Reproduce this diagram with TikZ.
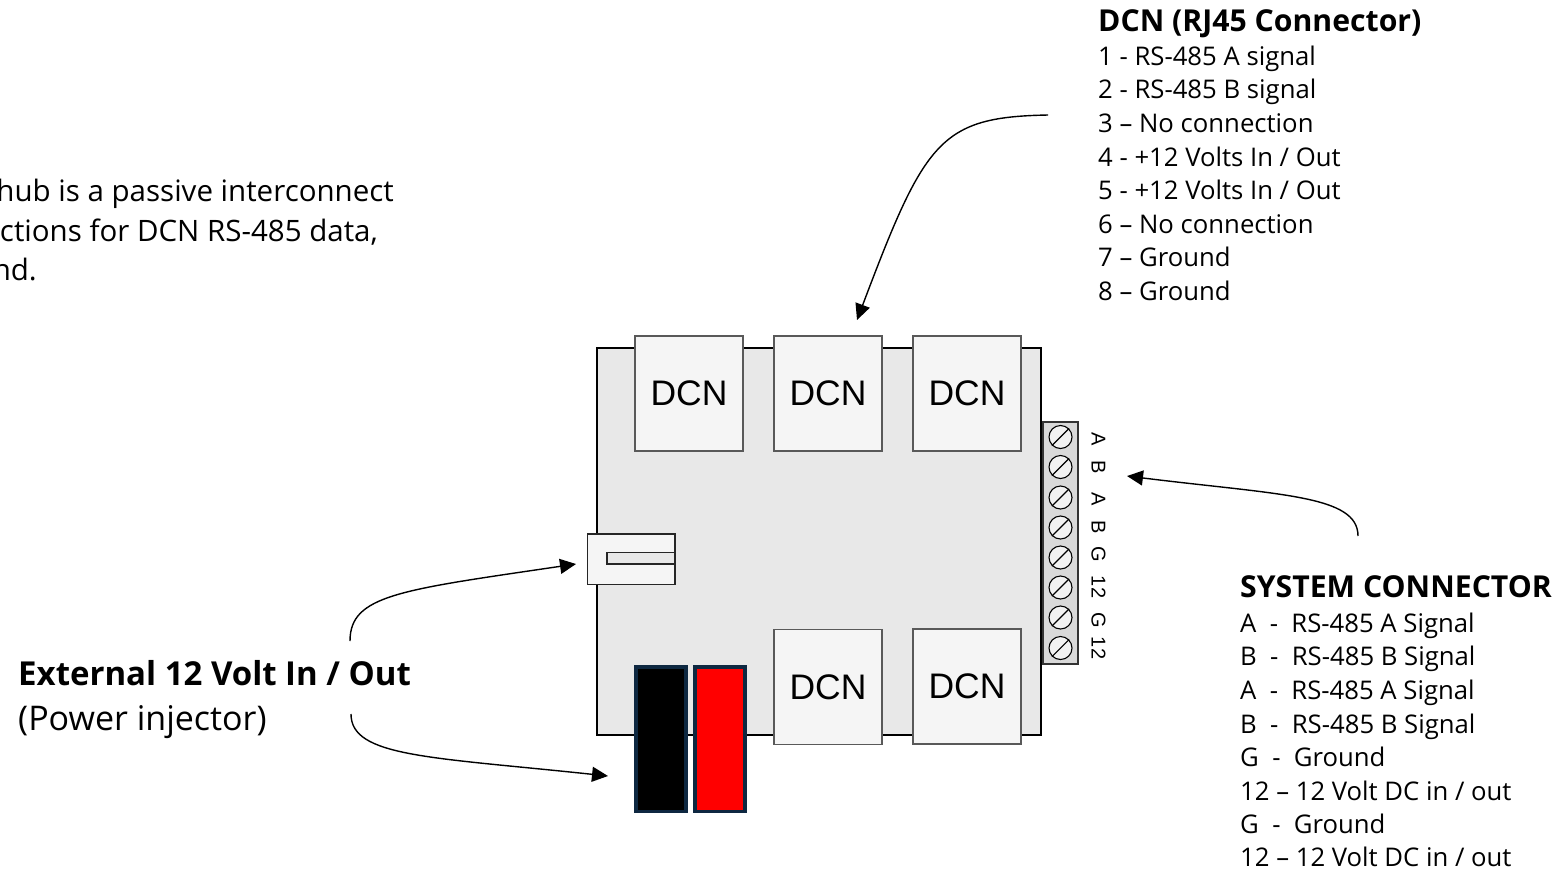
\documentclass[tikz,border=0pt]{standalone}
\usepackage{fontspec}
\setmainfont{Open Sans}
\newfontfamily\arialf{Liberation Sans}
\usetikzlibrary{arrows.meta}
\tikzset{
 x=1pt,y=-1pt,
 board/.style={draw=black,line width=1.6pt,fill=black!9},
 portbox/.style={draw=black!65,line width=1.2pt,fill=black!4,minimum width=108pt,minimum height=115pt,inner sep=0pt,font=\arialf\fontsize{35.5}{38}\selectfont},
 jack/.style={draw=black!85,line width=1.2pt,fill=black!4},
 post/.style={draw=myNavy,line width=3.8pt},
 screw/.style={circle,draw=black,line width=1.1pt,fill=black!5,minimum size=23pt,inner sep=0pt},
 pinlab/.style={rotate=-90,inner sep=0pt,font=\arialf\fontsize{20}{20}\selectfont},
 txt/.style={anchor=base west,inner sep=0pt,font=\fontsize{25.7}{28}\selectfont},
 head/.style={anchor=base west,inner sep=0pt,font=\bfseries\fontsize{30.2}{32}\selectfont},
 para/.style={anchor=base east,inner sep=0pt,font=\fontsize{29.5}{32}\selectfont},
 arr/.style={line width=1.4pt,-{Triangle[length=16pt,width=15pt]}},
}
\definecolor{myNavy}{HTML}{0E2841}
\begin{document}
\begin{tikzpicture}
\useasboundingbox (0,0) rectangle (1560,871);
\clip (0,0) rectangle (1560,871);
% board
\draw[board] (597,348) rectangle (1041,735);
\node[portbox] (d1) at (689,393.5) {DCN};
\node[portbox] (d2) at (828,393.5) {DCN};
\node[portbox] (d3) at (967,393.5) {DCN};
\node[portbox] (d4) at (828,687) {DCN};
\node[portbox] (d5) at (967,686.5) {DCN};
% power jack
\draw[jack] (587.5,534) rectangle (675,584.5);
\draw[jack,fill=black!9] (607,552.5) rectangle (674.5,564);
% posts
\draw[post,fill=black] (635.8,667.3) rectangle (686,811.5);
\draw[post,fill=red] (694.8,667.3) rectangle (745,811.5);
% terminal
\draw[draw=black!80,line width=1.1pt,fill=black!15] (1043,422) rectangle (1078,664);
\foreach \i/\y in {1/437,2/467,3/497.5,4/527.5,5/557.5,6/587.5,7/617.5,8/648}{
  \node[screw] (s\i) at (1060.5,\y) {};
  \draw[line width=1.1pt] (s\i.south west) -- (s\i.north east);
}
\node[pinlab] (p1) at (1098.5,439) {A};
\node[pinlab] (p2) at (1098.5,467) {B};
\node[pinlab] (p3) at (1098.5,499) {A};
\node[pinlab] (p4) at (1098.5,527) {B};
\node[pinlab] (p5) at (1098.5,554) {G};
\node[pinlab] (p6) at (1098.5,587) {12};
\node[pinlab] (p7) at (1098.5,620) {G};
\node[pinlab] (p8) at (1098.5,648) {12};
% DCN text
\node[head] (h1) at (1098,31) {DCN (RJ45 Connector)};
\foreach \n/\y/\t in {1/65.5/{1 - RS-485 A signal},2/98.5/{2 - RS-485 B signal},3/132.5/{3 – No connection},4/166.5/{4 - +12 Volts In / Out},5/199.5/{5 - +12 Volts In / Out},6/233.5/{6 – No connection},7/266.5/{7 – Ground},8/300.5/{8 – Ground}}{
  \node[txt] (a\n) at (1098,\y) {\t};
}
% System text
\node[head] (h2) at (1240,597) {SYSTEM CONNECTOR};
\foreach \n/\y/\t in {1/632.5/{A ~-~ RS-485 A Signal},2/665.5/{B ~-~ RS-485 B Signal},3/699.5/{A ~-~ RS-485 A Signal},4/733.5/{B ~-~ RS-485 B Signal},5/766.5/{G ~-~ Ground},6/800.5/{12 – 12 Volt DC in / out},7/833.5/{G ~-~ Ground},8/866.5/{12 – 12 Volt DC in / out}}{
  \node[txt] (b\n) at (1240,\y) {\t};
}
% External
\node[anchor=base west,inner sep=0pt,font=\bfseries\fontsize{33}{36}\selectfont] (e1) at (18,685) {External 12 Volt In / Out};
\node[anchor=base west,inner sep=0pt,font=\fontsize{34}{36}\selectfont] (e2) at (18,730) {(Power injector)};
% paragraph
\node[para] (t1) at (394,201) {hub is a passive interconnect};
\node[para] (t2) at (378,241) {ctions for DCN RS-485 data,};
\node[para] (t3) at (37,280) {nd.};
% arrows
\coordinate (c1s) at (1048,115);
\coordinate (c1e) at (857,320);
\draw[arr] (c1s) .. controls (940,117) and (925,140) .. (c1e);
\coordinate (c2s) at (1358,536);
\coordinate (c2e) at (1127,476);
\draw[arr] (c2s) .. controls (1358,495) and (1280,495) .. (c2e);
\coordinate (c3s) at (350,641);
\coordinate (c3e) at (576,564);
\draw[arr] (c3s) .. controls (350,595) and (400,590) .. (c3e);
\coordinate (c4s) at (351,714);
\coordinate (c4e) at (608,776);
\draw[arr] (c4s) .. controls (351,757) and (430,757) .. (c4e);
\end{tikzpicture}
\end{document}
